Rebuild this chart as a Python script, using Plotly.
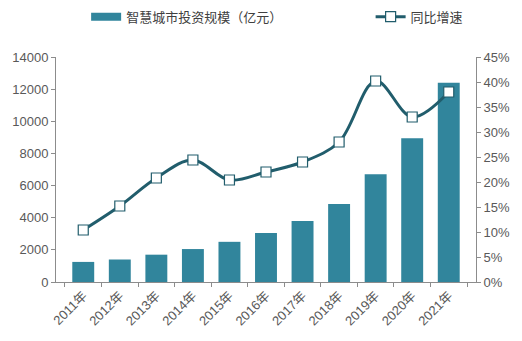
import plotly.graph_objects as go

years = ["2011年", "2012年", "2013年", "2014年", "2015年", "2016年",
         "2017年", "2018年", "2019年", "2020年", "2021年"]
investment = [1250, 1400, 1700, 2050, 2500, 3050, 3800, 4850, 6700, 8950, 12400]
growth = [10.4, 15.2, 20.8, 24.4, 20.4, 22.0, 24.0, 28.0, 40.2, 33.0, 38.0]

bar_name = "智慧城市投资规模（亿元）"
line_name = "同比增速"

font_family = "Liberation Sans, Arial, Noto Sans CJK SC, sans-serif"
tick_color = "#595959"
axis_color = "#8c8c8c"
bar_color = "#31859c"

fig = go.Figure()
fig.add_trace(go.Bar(
    x=years, y=investment, name=bar_name,
    marker=dict(color=bar_color, line=dict(width=0)),
    width=0.6, showlegend=False,
))
# legend entry with a wide flat swatch, as in the reference
fig.add_trace(go.Scatter(
    x=[None], y=[None], name=bar_name, mode="lines",
    line=dict(color=bar_color, width=8),
    legend="legend", showlegend=True, hoverinfo="skip",
))
fig.add_trace(go.Scatter(
    x=years, y=growth, name=line_name, yaxis="y2",
    mode="lines+markers",
    line=dict(color="#215d6c", width=3, shape="spline", smoothing=1.0),
    marker=dict(symbol="square", size=10, color="white",
                line=dict(color="#215d6c", width=1.2)),
    legend="legend2", showlegend=True,
))

leg_font = dict(size=13, color="#404040", family="Noto Sans CJK SC, sans-serif")

fig.update_layout(
    width=522, height=341,
    margin=dict(l=50, r=44, t=57, b=59),
    paper_bgcolor="white", plot_bgcolor="white",
    font=dict(family=font_family, size=13, color=tick_color),
    showlegend=True,
    xaxis=dict(
        showline=True, linecolor=axis_color, linewidth=1,
        ticks="outside", tickson="boundaries", ticklen=4, tickcolor=axis_color,
        tickangle=-45, tickfont=dict(size=13, color=tick_color,
                                     family="Liberation Sans, Noto Sans CJK SC"),
        showgrid=False,
    ),
    yaxis=dict(
        range=[0, 14000], dtick=2000, tickformat="d",
        showline=True, linecolor=axis_color, linewidth=1,
        ticks="outside", ticklen=4, tickcolor=axis_color,
        showgrid=False, zeroline=False,
        tickfont=dict(size=13, color=tick_color),
    ),
    yaxis2=dict(
        range=[0, 45], dtick=5, overlaying="y", side="right",
        ticksuffix="%",
        showline=True, linecolor=axis_color, linewidth=1,
        ticks="outside", ticklen=4, tickcolor=axis_color,
        showgrid=False, zeroline=False,
        tickfont=dict(size=13, color=tick_color),
    ),
    legend=dict(
        x=0.165, y=0.995, xref="container", yref="container",
        xanchor="left", yanchor="top",
        orientation="h", bgcolor="rgba(0,0,0,0)",
        font=leg_font, itemwidth=30,
    ),
    legend2=dict(
        x=0.71, y=0.995, xref="container", yref="container",
        xanchor="left", yanchor="top",
        orientation="h", bgcolor="rgba(0,0,0,0)",
        font=leg_font, itemwidth=30,
    ),
)

fig.write_html("out.html")
